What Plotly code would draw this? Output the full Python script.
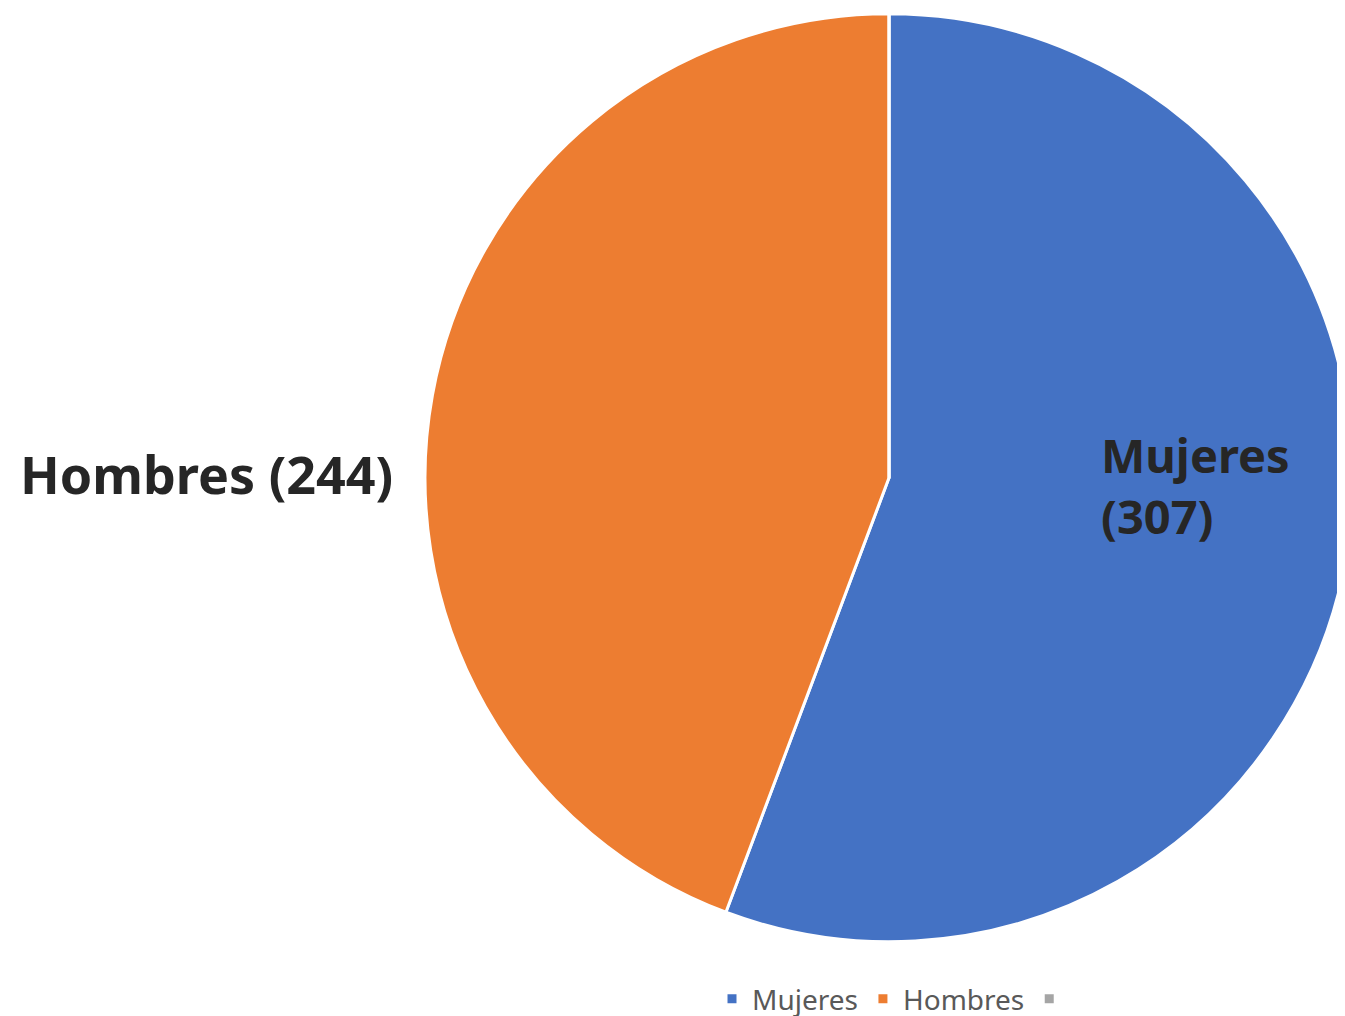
import plotly.graph_objects as go

labels = ["Mujeres", "Hombres", " "]
values = [307, 244, 0]
colors = ["#4472C4", "#ED7D31", "#A5A5A5"]

W, H = 1345, 1016

fig = go.Figure()
fig.add_trace(go.Pie(
    labels=labels,
    values=values,
    sort=False,
    direction="clockwise",
    rotation=0,
    marker=dict(colors=colors, line=dict(color="white", width=3)),
    textinfo="none",
    hoverinfo="label+value+percent",
    domain=dict(x=[417 / W, 1.0], y=[(H - 948) / H, 1.0]),
    showlegend=True,
))

fig.add_annotation(
    text=f"<b>{labels[1]} ({values[1]})</b>",
    xref="paper", yref="paper",
    x=387 / W, y=(H - 470) / H,
    xanchor="right", yanchor="middle",
    showarrow=False, align="right",
    font=dict(family="Noto Sans, Open Sans, sans-serif", size=52, color="#262626"),
)
fig.add_annotation(
    text=f"<b>{labels[0]}<br>({values[0]})</b>",
    xref="paper", yref="paper",
    x=1091 / W, y=(H - 482) / H,
    xanchor="left", yanchor="middle",
    showarrow=False, align="left",
    font=dict(family="Noto Sans, Open Sans, sans-serif", size=47, color="#262626"),
)

fig.update_layout(
    width=W, height=H,
    margin=dict(l=0, r=0, t=0, b=0),
    paper_bgcolor="white",
    plot_bgcolor="white",
    legend=dict(
        orientation="h",
        x=889 / W, xanchor="center",
        y=16 / H, yanchor="middle",
        font=dict(family="Noto Sans, sans-serif", size=28, color="#595959"),
        bgcolor="rgba(0,0,0,0)",
    ),
)

fig.write_html("out.html")
